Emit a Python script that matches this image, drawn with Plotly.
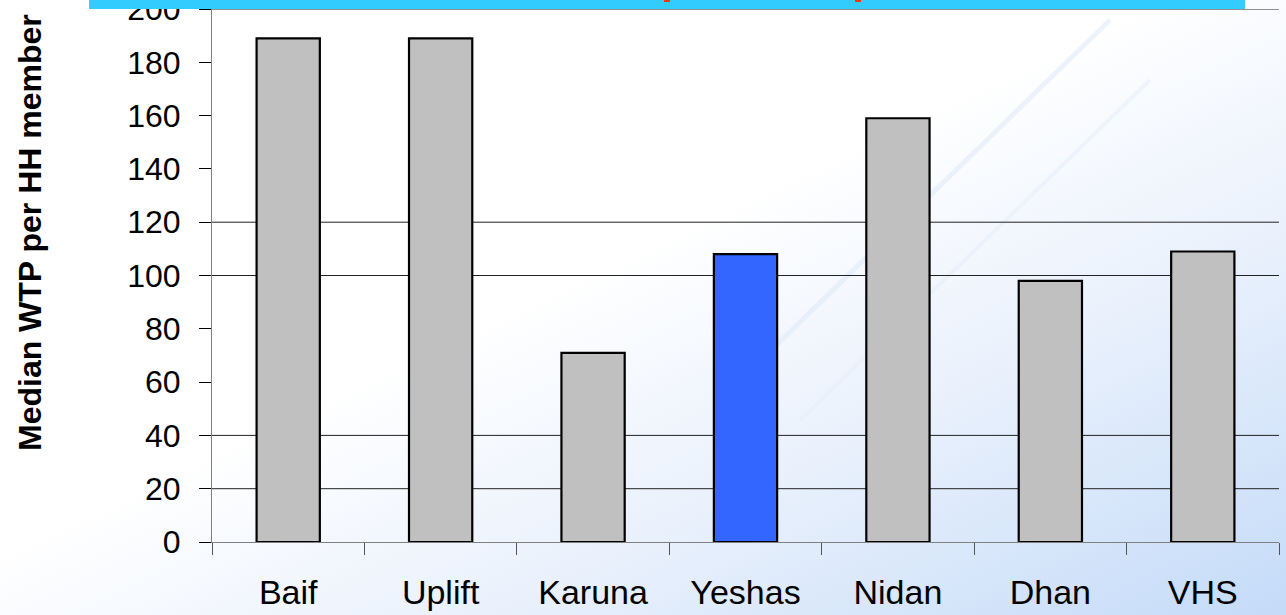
import base64
import plotly.graph_objects as go

categories = ["Baif", "Uplift", "Karuna", "Yeshas", "Nidan", "Dhan", "VHS"]
values = [189, 189, 71, 108, 159, 98, 109]
bar_colors = ["#c0c0c0", "#c0c0c0", "#c0c0c0", "#3366ff", "#c0c0c0", "#c0c0c0", "#c0c0c0"]
y_ticks = [0, 20, 40, 60, 80, 100, 120, 140, 160, 180, 200]
grid_values = [20, 40, 100, 120, 200]
y_title = "Median WTP per HH member"

W, H = 1286, 615
L, R, T, B = 212, 7, 9, 73
pw, ph = W - L - R, H - T - B

svg = f'''<svg xmlns="http://www.w3.org/2000/svg" width="{W}" height="{H}" viewBox="0 0 {W} {H}" preserveAspectRatio="none">
<defs><linearGradient id="g" x1="0" y1="0" x2="1" y2="1">
<stop offset="0" stop-color="#ffffff"/><stop offset="0.45" stop-color="#ffffff"/>
<stop offset="0.7" stop-color="#e8f0fc"/><stop offset="1" stop-color="#c4dbf8"/></linearGradient></defs>
<rect width="{W}" height="{H}" fill="url(#g)"/>
<line x1="720" y1="400" x2="1110" y2="20" stroke="#dce8fa" stroke-width="5" opacity="0.5"/>
<line x1="800" y1="420" x2="1150" y2="80" stroke="#e6eefb" stroke-width="4" opacity="0.5"/>
</svg>'''
uri = "data:image/svg+xml;base64," + base64.b64encode(svg.encode()).decode()

fig = go.Figure(go.Bar(
    x=categories, y=values,
    marker=dict(color=bar_colors, line=dict(color="#000000", width=2.2)),
    showlegend=False,
))

shapes = []
for g in grid_values:
    shapes.append(dict(type="line", xref="paper", yref="y", x0=0, x1=1, y0=g, y1=g,
                       line=dict(color="#222222", width=1), layer="below"))
# top banner
shapes.append(dict(type="rect", xref="paper", yref="paper",
                   x0=(89 - L) / pw, x1=(1245 - L) / pw, y0=1.0, y1=1 + T / ph + 0.01,
                   fillcolor="#33ccff", line=dict(width=0), layer="above"))
for px in (667, 858):
    shapes.append(dict(type="rect", xref="paper", yref="paper",
                       x0=(px - 3 - L) / pw, x1=(px + 3 - L) / pw,
                       y0=1 + (T - 2) / ph, y1=1 + T / ph + 0.01,
                       fillcolor="#ff3300", line=dict(width=0), layer="above"))

fig.update_layout(
    width=W, height=H,
    margin=dict(l=L, r=R, t=T, b=B, autoexpand=False),
    paper_bgcolor="#ffffff",
    plot_bgcolor="rgba(0,0,0,0)",
    bargap=0.585,
    font=dict(family="Liberation Sans, Arial, sans-serif", color="#000000"),
    images=[dict(source=uri, xref="paper", yref="paper", x=-L / pw, y=1 + T / ph,
                 sizex=W / pw, sizey=H / ph, sizing="stretch", layer="below",
                 xanchor="left", yanchor="top")],
    shapes=shapes,
    annotations=[dict(text=f"<b>{y_title}</b>", textangle=-90, xref="paper", yref="paper",
                      x=(30 - L) / pw, y=(542 - 233) / ph, showarrow=False,
                      font=dict(size=32, color="#000000"), xanchor="center", yanchor="middle")],
    xaxis=dict(
        automargin=False,
        showgrid=False, showline=True, linecolor="#808080", linewidth=1,
        ticks="outside", tickson="boundaries", ticklen=12, tickcolor="#555555",
        tickfont=dict(size=34), ticklabelstandoff=20, zeroline=False,
        fixedrange=True,
    ),
    yaxis=dict(
        automargin=False,
        range=[0, 200], tickvals=y_ticks, showgrid=False, zeroline=False,
        showline=True, linecolor="#808080", linewidth=1,
        ticks="outside", ticklen=12, tickcolor="#000000",
        tickfont=dict(size=32), ticklabelstandoff=12, ticklabeloverflow="allow",
        fixedrange=True,
    ),
)

fig.write_html("out.html", config={"displayModeBar": False},
               post_script="document.body.style.margin='0';document.body.style.overflow='hidden';")
